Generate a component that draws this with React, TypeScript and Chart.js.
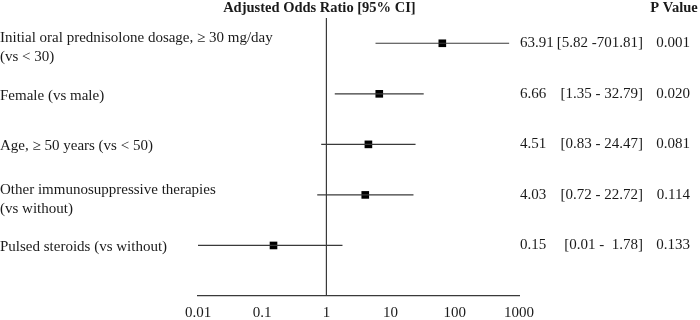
import React, { useEffect, useRef } from "react";
import { Chart, registerables } from "chart.js";

Chart.register(...registerables);

const labels: string[][] = [
  ["Initial oral prednisolone dosage, \u2265 30 mg/day", "(vs < 30)"],
  ["Female (vs male)"],
  ["Age, \u2265 50 years (vs < 50)"],
  ["Other immunosuppressive therapies", "(vs without)"],
  ["Pulsed steroids (vs without)"],
];
const oddsRatios = [63.91, 6.66, 4.51, 4.03, 0.15];
const ciLow = [5.82, 1.35, 0.83, 0.72, 0.01];
const ciHigh = [701.81, 32.79, 24.47, 22.72, 1.78];
const ciText = ["[5.82 -701.81]", "[1.35 - 32.79]", "[0.83 - 24.47]", "[0.72 - 22.72]", "[0.01 -  1.78]"];
const pValues = ["0.001", "0.020", "0.081", "0.114", "0.133"];
const tickValues = [0.01, 0.1, 1, 10, 100, 1000];
const headerTitle = "Adjusted Odds Ratio [95% CI]";
const headerP = "P Value";

const Y_MIN = 0.5;
const Y_MAX = 6;
const FONT = "'Liberation Serif', 'Times New Roman', serif";
const TEXT = "#1a1a1a";
const LINE = "#3a3a3a";

export default function App() {
  const ref = useRef<HTMLCanvasElement | null>(null);

  useEffect(() => {
    if (!ref.current) return;
    const rows = oddsRatios.map((_, i) => i + 1);

    const textPlugin = {
      id: "forestText",
      afterDraw(chart: any) {
        const ctx = chart.ctx as CanvasRenderingContext2D;
        const xs = chart.scales.x;
        const ys = chart.scales.y;
        ctx.save();
        ctx.fillStyle = TEXT;
        ctx.textBaseline = "middle";
        ctx.font = `bold 14.5px ${FONT}`;
        ctx.textAlign = "center";
        ctx.fillText(headerTitle, xs.getPixelForValue(1) - 7, 8);
        ctx.fillText(headerP, 674, 8);
        ctx.font = `15px ${FONT}`;
        rows.forEach((r, i) => {
          const y = ys.getPixelForValue(r);
          const lines = labels[i];
          ctx.textAlign = "left";
          if (lines.length === 1) {
            ctx.fillText(lines[0], 0, y + 2);
          } else {
            ctx.fillText(lines[0], 0, y - 5);
            ctx.fillText(lines[1], 0, y + 14);
          }
          ctx.fillText(oddsRatios[i].toFixed(2), 520, y);
          ctx.textAlign = "right";
          ctx.fillText(ciText[i], 643, y);
          ctx.fillText(pValues[i], 690, y);
        });
        ctx.restore();
      },
    };

    const ciSets = rows.map((r, i) => ({
      type: "line" as const,
      data: [
        { x: ciLow[i], y: r },
        { x: ciHigh[i], y: r },
      ],
      borderColor: LINE,
      borderWidth: 1.2,
      pointRadius: 0,
      showLine: true,
      clip: false as any,
    }));

    const chart = new Chart(ref.current, {
      type: "scatter",
      data: {
        datasets: [
          {
            type: "line",
            data: [
              { x: 1, y: Y_MIN },
              { x: 1, y: Y_MAX },
            ],
            borderColor: LINE,
            borderWidth: 1.2,
            pointRadius: 0,
            showLine: true,
          } as any,
          ...(ciSets as any[]),
          {
            type: "scatter",
            data: rows.map((r, i) => ({ x: oddsRatios[i], y: r })),
            pointStyle: "rect",
            pointRadius: 5.4,
            backgroundColor: "#000",
            borderColor: "#000",
            borderWidth: 0,
          } as any,
        ],
      },
      options: {
        responsive: false,
        animation: false,
        events: [],
        layout: { padding: { left: 198, right: 181, top: 18, bottom: -10 } },
        plugins: { legend: { display: false }, tooltip: { enabled: false } },
        scales: {
          x: {
            type: "logarithmic",
            min: 0.01,
            max: 1000,
            afterBuildTicks: (scale: any) => {
              scale.ticks = tickValues.map((v) => ({ value: v }));
            },
            ticks: {
              autoSkip: false,
              maxRotation: 0,
              padding: 8,
              color: TEXT,
              font: { family: FONT, size: 15 },
              callback: (v: any) => String(v),
            },
            grid: { display: false, drawTicks: false },
            border: { display: true, color: LINE, width: 1.2 },
          },
          y: {
            type: "linear",
            display: false,
            min: Y_MIN,
            max: Y_MAX,
            reverse: true,
          },
        },
      } as any,
      plugins: [textPlugin],
    });
    return () => chart.destroy();
  }, []);

  return (
    <div style={{ position: "absolute", left: 0, top: 0, width: 700, height: 320, background: "#fff" }}>
      <canvas ref={ref} width={700} height={320} />
    </div>
  );
}
